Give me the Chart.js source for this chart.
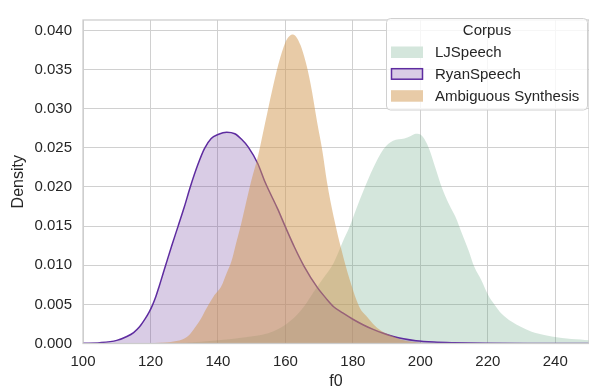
<!DOCTYPE html>
<html>
<head>
<meta charset="utf-8">
<script src="https://cdn.jsdelivr.net/npm/chart.js@4.4.1/dist/chart.umd.min.js"></script>
<style>
  html, body { margin: 0; padding: 0; background: #fff; }
  #wrap { width: 589px; height: 387px; }
</style>
</head>
<body>
<div id="wrap"><canvas id="canvas"></canvas></div>
<script>
// density curves (x = f0, y = density)
const ljLabel = 'LJSpeech'
const ljX = [100,120,130,140,148,154.8,160,163.5,166,168.4,171,174.3,177,179.1,181,183.1,186,189,191.9,195.3,197,198.7,200.6,202,203,204.5,206.4,208.5,210.4,212.3,214.3,216,218.2,220.1,222.1,224.1,227,229.9,233,236.7,242,247.5,250]
const ljY = [0,0.00003,0.0001,0.0004,0.0008,0.0013,0.0024,0.0037,0.0050,0.0066,0.0082,0.0103,0.0130,0.0150,0.0172,0.0195,0.0224,0.0248,0.0259,0.0262,0.0265,0.0268,0.0265,0.0255,0.0244,0.0224,0.0199,0.0178,0.0162,0.0141,0.0119,0.0098,0.0080,0.0062,0.0049,0.0038,0.0028,0.0021,0.0015,0.0011,0.0007,0.0005,0.0004]

const ryanLabel = 'RyanSpeech'
const ryanX = [100,105,110,113,115,116.7,118.5,119.6,120.6,121.6,122.5,123.5,124.5,126.3,128.2,130,131.8,134,136,138,140,142.6,145,147,149,151.8,153.8,155.5,157.7,160,162.7,165.5,169.4,172,174.3,177,180,183,186,189,192,195,198.7,204,210,220,235,250]
const ryanY = [0.00003,0.0001,0.0004,0.0009,0.0014,0.0021,0.0032,0.0040,0.0049,0.0060,0.0072,0.0086,0.0100,0.0125,0.0150,0.0174,0.0200,0.0228,0.0249,0.0262,0.0267,0.0270,0.0268,0.0261,0.0251,0.0230,0.0208,0.0192,0.0172,0.0149,0.0123,0.0099,0.0072,0.0058,0.0047,0.0039,0.0031,0.0024,0.0018,0.0013,0.0009,0.0006,0.00035,0.00018,0.0001,0.00004,0.00001,0]

const ambLabel = 'Ambiguous Synthesis'
const ambX = [100,115,120,122.5,126,129.4,131.5,133.3,135,136.5,138.7,141,142.6,144,145.5,147,148.5,150,152,154,156,158,160,161,162,163,164.5,166,167.5,169.4,171,172.3,174.3,176.6,179.1,182,184,186,188.5,191.5,195,200,210,250]
const ambY = [0,0,0.00002,0.0001,0.0002,0.0005,0.0011,0.0021,0.0032,0.0044,0.0060,0.0073,0.0090,0.0105,0.0130,0.0155,0.0183,0.0210,0.0242,0.0282,0.0322,0.0358,0.0385,0.0392,0.0395,0.0393,0.0381,0.0360,0.0331,0.0283,0.0245,0.0207,0.0162,0.0120,0.0081,0.0046,0.0035,0.0025,0.0016,0.0010,0.0004,0.0001,0,0]

const xTicks = [100,120,140,160,180,200,220,240]
const legendTitle = 'Corpus'

function pts(xs, ys){
  return xs.map((x, i) => ({x: x, y: ys[i]}))
}

const textColor = '#262626'
const gridColor = '#d0d0d0'
Chart.defaults.font.family = "'Liberation Sans', Arial, sans-serif"
Chart.defaults.color = textColor

// frame round the plot + legend box like seaborn's
const frameAndLegend = {
  id: 'frameAndLegend',
  afterDatasetsDraw(chart){
    const a = chart.chartArea
    const ctx = chart.ctx
    ctx.save()
    ctx.strokeStyle = '#cccccc'
    ctx.lineWidth = 1.25
    ctx.strokeRect(a.left, a.top, a.right - a.left, a.bottom - a.top)
    ctx.restore()
  },
  afterDraw(chart){
    const ctx = chart.ctx
    ctx.save()
    ctx.fillStyle = 'rgba(255,255,255,0.8)'
    ctx.strokeStyle = '#d0d0d0'
    ctx.lineWidth = 1
    ctx.beginPath()
    ctx.roundRect(386.5, 18.5, 201, 91.5, 4)
    ctx.fill()
    ctx.stroke()
    ctx.fillStyle = textColor
    ctx.font = "15px 'Liberation Sans', Arial, sans-serif"
    ctx.textBaseline = 'middle'
    ctx.textAlign = 'center'
    ctx.fillText(legendTitle, 487, 31)
    ctx.textAlign = 'left'
    const rows = [52.5, 74.2, 96.2]
    const order = [ljLabel, ryanLabel, ambLabel]
    order.forEach((lab, i) => {
      const ds = chart.data.datasets.find(d => d.label === lab)
      const y = rows[i]
      ctx.fillStyle = 'rgba(255,255,255,1)'
      ctx.fillRect(391, y - 6, 32, 11.5)
      ctx.fillStyle = ds.backgroundColor
      ctx.fillRect(391, y - 6, 32, 11.5)
      if (ds.borderWidth > 0) {
        ctx.strokeStyle = ds.borderColor
        ctx.lineWidth = 1.5
        ctx.strokeRect(391.5, y - 5.5, 31, 10.5)
      }
      ctx.fillStyle = textColor
      ctx.fillText(lab, 435, y + 0.5)
    })
    ctx.restore()
  }
}

new Chart(document.getElementById('canvas'), {
  type: 'line',
  data: {
    datasets: [
      {
        label: ambLabel,
        data: pts(ambX, ambY),
        backgroundColor: 'rgba(209,151,79,0.5)',
        borderColor: 'rgba(209,151,79,0)',
        borderWidth: 0,
        fill: 'origin',
        order: 0
      },
      {
        label: ryanLabel,
        data: pts(ryanX, ryanY),
        backgroundColor: 'rgba(102,51,153,0.25)',
        borderColor: '#5e2ca0',
        borderWidth: 1.5,
        fill: 'origin',
        order: 1
      },
      {
        label: ljLabel,
        data: pts(ljX, ljY),
        backgroundColor: 'rgba(83,155,115,0.25)',
        borderColor: 'rgba(83,155,115,0)',
        borderWidth: 0,
        fill: 'origin',
        order: 2
      }
    ]
  },
  options: {
    responsive: true,
    maintainAspectRatio: false,
    animation: false,
    layout: { padding: { top: 10.7, right: -6, left: 0, bottom: 0 } },
    elements: {
      point: { radius: 0, hoverRadius: 0 },
      line: { cubicInterpolationMode: 'monotone' }
    },
    plugins: {
      legend: { display: false },
      tooltip: { enabled: false }
    },
    scales: {
      x: {
        type: 'linear',
        min: 100,
        max: 250,
        afterFit(scale){ scale.height = 43.5 },
        afterBuildTicks(scale){ scale.ticks = xTicks.map(v => ({value: v})) },
        ticks: { font: { size: 15 }, padding: 9.5, color: textColor },
        grid: { color: gridColor, lineWidth: 1, drawTicks: false },
        border: { display: false },
        title: { display: true, text: 'f0', font: { size: 16 }, color: textColor, padding: { top: 0, bottom: -4.3 } }
      },
      y: {
        min: 0,
        max: 0.04134,
        afterFit(scale){ scale.width = 83 },
        ticks: {
          stepSize: 0.005,
          includeBounds: false,
          font: { size: 15 },
          padding: 11,
          color: textColor,
          callback: v => Number(v).toFixed(3)
        },
        grid: { color: gridColor, lineWidth: 1, drawTicks: false },
        border: { display: false },
        title: { display: true, text: 'Density', font: { size: 16 }, color: textColor, padding: { top: 9, bottom: 0 } }
      }
    }
  },
  plugins: [frameAndLegend]
})
</script>
</body>
</html>
